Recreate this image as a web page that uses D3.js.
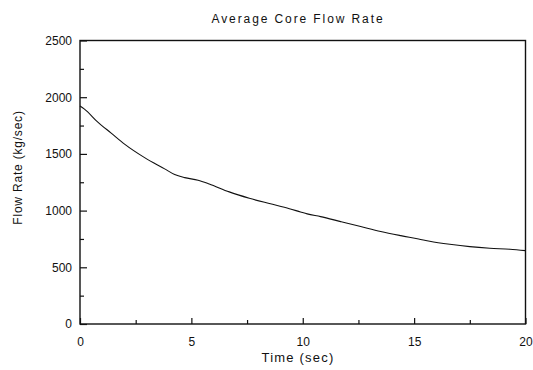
<!DOCTYPE html>
<html>
<head>
<meta charset="utf-8">
<script src="https://cdn.jsdelivr.net/npm/d3@7"></script>
<style>
  body { margin: 0; background: #fff; }
  text { font-family: "Liberation Sans", Arial, sans-serif; fill: #111; }
</style>
</head>
<body>
<svg width="533" height="370"></svg>
<script>
// data
const timeSec = [0, 0.2, 0.8, 1.4, 2.0, 2.9, 3.8, 4.25, 4.7, 5.3, 5.8, 6.7, 7.6, 8.5, 9.4,
  9.9, 10.2, 10.8, 11.7, 12.6, 13.5, 14.4, 15.2, 15.7, 16.6, 17.5, 18.4, 19.3, 20];
const flowRate = [1922, 1895, 1780, 1683, 1586, 1467, 1368, 1318, 1291, 1268, 1235, 1165, 1109, 1062, 1017,
  988, 971, 947, 903, 859, 815, 779, 750, 730, 703, 682, 668, 659, 647];
const xTicks = [0, 5, 10, 15, 20];
const xMinor = [2.5, 7.5, 12.5, 17.5];
const yTicks = [0, 500, 1000, 1500, 2000, 2500];
const yMinor = [250, 750, 1250, 1750, 2250];

const m = { left: 80, right: 525.5, top: 40.5, bottom: 324 };
const svg = d3.select('svg');

const x = d3.scaleLinear().domain([0, 20]).range([m.left, m.right]);
const y = d3.scaleLinear().domain([0, 2500]).range([m.bottom, m.top]);

// frame
svg.append('rect')
  .attr('x', m.left).attr('y', m.top)
  .attr('width', m.right - m.left).attr('height', m.bottom - m.top)
  .attr('fill', 'none').attr('stroke', '#111').attr('stroke-width', 1.4);

// axes with inward ticks
const yAxis = svg.append('g').attr('transform', `translate(${m.left},0)`)
  .call(d3.axisLeft(y).tickValues(yTicks).tickSize(-7).tickFormat(d3.format('d')));
const yAxisMinor = svg.append('g').attr('transform', `translate(${m.left},0)`)
  .call(d3.axisLeft(y).tickValues(yMinor).tickSize(-4).tickFormat(''));
const xAxis = svg.append('g').attr('transform', `translate(0,${m.bottom})`)
  .call(d3.axisBottom(x).tickValues(xTicks).tickSize(-6).tickPadding(13).tickFormat(d3.format('d')));
const xAxisMinor = svg.append('g').attr('transform', `translate(0,${m.bottom})`)
  .call(d3.axisBottom(x).tickValues(xMinor).tickSize(-4).tickFormat(''));

[yAxis, yAxisMinor, xAxis, xAxisMinor].forEach(g => {
  g.select('.domain').remove();
  g.selectAll('line').attr('stroke', '#111').attr('stroke-width', 1.2);
  g.selectAll('text').style('font-size', '12px').attr('fill', '#111');
});
yAxis.selectAll('text').attr('x', -8);

// curve
svg.append('path')
  .datum(timeSec.map((t, i) => [t, flowRate[i]]))
  .attr('fill', 'none').attr('stroke', '#111').attr('stroke-width', 1.1)
  .attr('d', d3.line().x(d => x(d[0])).y(d => y(d[1])).curve(d3.curveMonotoneX));

// titles
svg.append('text')
  .attr('x', 298).attr('y', 22.5).attr('text-anchor', 'middle')
  .style('font-size', '12px').style('letter-spacing', '1.9px')
  .text('Average Core Flow Rate');
svg.append('text')
  .attr('x', 298).attr('y', 362).attr('text-anchor', 'middle')
  .style('font-size', '13px').style('letter-spacing', '1.2px')
  .text('Time (sec)');
svg.append('text')
  .attr('transform', 'translate(22,167.5) rotate(-90)').attr('text-anchor', 'middle')
  .style('font-size', '12px').style('letter-spacing', '0.8px')
  .text('Flow Rate (kg/sec)');
</script>
</body>
</html>
